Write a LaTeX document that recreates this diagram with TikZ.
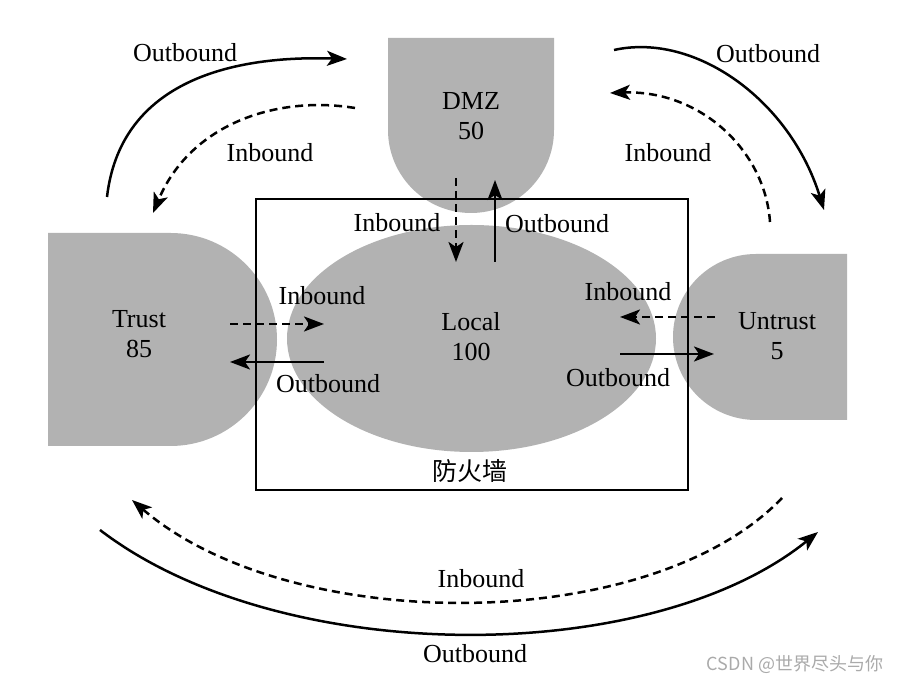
\documentclass[tikz,border=0pt]{standalone}
\usepackage{fontspec}
\setmainfont{Liberation Serif}
\newfontfamily\cjk{Noto Sans CJK SC}
\usetikzlibrary{arrows.meta,shapes.geometric}
\definecolor{zonegray}{RGB}{178,178,178}
\definecolor{wmgray}{RGB}{170,170,170}
\tikzset{
  zone/.style={fill=zonegray,draw=none},
  lbl/.style={font=\fontsize{26}{30}\selectfont,inner sep=0pt,align=center},
  zlbl/.style={font=\fontsize{26}{30}\selectfont,inner sep=0pt,align=center},
  flow/.style={line width=2.5pt,-{Stealth[length=20pt,width=15pt,inset=5pt]}},
  inflow/.style={flow,dash pattern=on 8pt off 5pt},
  fwbox/.style={draw,line width=2.4pt,fill=none,inner sep=0pt}
}
\begin{document}
\begin{tikzpicture}[x=1pt,y=1pt]
\useasboundingbox (0,0) rectangle (906,685);
% zones
\fill[zonegray] (388,647) -- (388,555) arc[start angle=180,end angle=360,radius=83] -- (554,647) -- cycle;
\fill[zonegray] (48,452) -- (170.5,452) arc[start angle=90,end angle=-90,radius=106.5] -- (48,239) -- cycle;
\fill[zonegray] (847,431) -- (756,431) arc[start angle=90,end angle=270,radius=83] -- (847,265) -- cycle;
\node[ellipse,fill=zonegray,minimum width=369pt,minimum height=227pt,inner sep=0pt] (localzone) at (471.5,346.5) {};
% firewall box
\node[fwbox,minimum width=432pt,minimum height=291pt] (fw) at (472,340.5) {};
\node[lbl,font=\cjk\fontsize{25}{28}\selectfont] (fwlbl) at (470,214) {防火墙};
% zone labels
\node[zlbl] (dmz) at (471,569) {DMZ\\50};
\node[zlbl] (trust) at (139,350.5) {Trust\\85};
\node[zlbl] (untrust) at (777,348.5) {Untrust\\5};
\node[zlbl] (local) at (471,348) {Local\\100};
% flow labels
\node[lbl] (l1) at (185,632) {Outbound};
\node[lbl] (l2) at (270,532) {Inbound};
\node[lbl] (l3) at (768,631) {Outbound};
\node[lbl] (l4) at (668,532) {Inbound};
\node[lbl] (l5) at (397,462) {Inbound};
\node[lbl] (l6) at (557,461) {Outbound};
\node[lbl] (l7) at (322,389) {Inbound};
\node[lbl] (l8) at (328,301) {Outbound};
\node[lbl] (l9) at (628,393) {Inbound};
\node[lbl] (l10) at (618,307) {Outbound};
\node[lbl] (l11) at (481,106) {Inbound};
\node[lbl] (l12) at (475,31) {Outbound};
% endpoints
\coordinate (tlos) at (107,488); \coordinate (tloe) at (347,626);
\coordinate (tlis) at (355,577); \coordinate (tlie) at (153,472);
\coordinate (tros) at (614,635); \coordinate (troe) at (824,475);
\coordinate (tris) at (770,463); \coordinate (trie) at (610,592);
\coordinate (dis) at (456,507); \coordinate (die) at (456,423);
\coordinate (dos) at (495,423); \coordinate (doe) at (495,505);
\coordinate (tis) at (230,361); \coordinate (tie) at (324,361);
\coordinate (tos) at (324,323); \coordinate (toe) at (230,323);
\coordinate (uis) at (715,368); \coordinate (uie) at (620,368);
\coordinate (uos) at (620,331); \coordinate (uoe) at (714,331);
\coordinate (bis) at (782,187); \coordinate (bie) at (132,185);
\coordinate (bos) at (100,155); \coordinate (boe) at (818,153);
% arrows
\draw[flow] (tlos) .. controls (120,600) and (225,630) .. (tloe);
\draw[inflow] (tlis) .. controls (275,590) and (190,560) .. (tlie);
\draw[flow] (tros) .. controls (695,653) and (790,585) .. (troe);
\draw[inflow] (tris) .. controls (765,535) and (700,595) .. (trie);
\draw[inflow] (dis) -- (die);
\draw[flow] (dos) -- (doe);
\draw[inflow] (tis) -- (tie);
\draw[flow] (tos) -- (toe);
\draw[inflow] (uis) -- (uie);
\draw[flow] (uos) -- (uoe);
\draw[inflow] (bis) .. controls (650,49) and (290,49) .. (bie);
\draw[flow] (bos) .. controls (280,17) and (650,17) .. (boe);
% watermark
\node[inner sep=0pt,text=wmgray,font=\cjk\fontsize{18}{20}\selectfont] (wm) at (795,20) {CSDN @世界尽头与你};
\end{tikzpicture}
\end{document}
